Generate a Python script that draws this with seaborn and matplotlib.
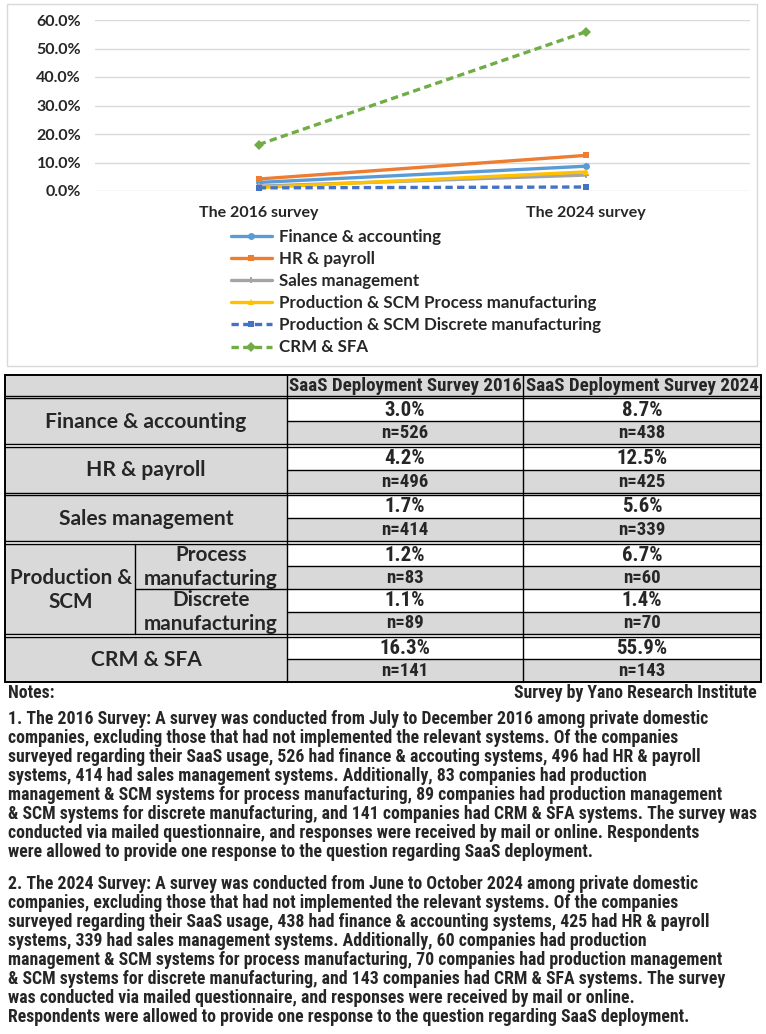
import matplotlib
matplotlib.use("Agg")
import matplotlib.pyplot as plt
import seaborn as sns
import pandas as pd
from matplotlib import font_manager
from matplotlib.patches import Rectangle

# ---------------- data ----------------
categories = ["Finance & accounting", "HR & payroll", "Sales management",
              "Production & SCM Process manufacturing",
              "Production & SCM Discrete manufacturing", "CRM & SFA"]
surveys = ["The 2016 survey", "The 2024 survey"]
rate_2016 = [3.0, 4.2, 1.7, 1.2, 1.1, 16.3]
rate_2024 = [8.7, 12.5, 5.6, 6.7, 1.4, 55.9]
n_2016 = [526, 496, 414, 83, 89, 141]
n_2024 = [438, 425, 339, 60, 70, 143]
y_ticks = [0, 10, 20, 30, 40, 50, 60]
table_headers = ["SaaS Deployment Survey 2016", "SaaS Deployment Survey 2024"]
table_labels = ["Finance & accounting", "HR & payroll", "Sales management",
                "Process\nmanufacturing", "Discrete\nmanufacturing", "CRM & SFA"]
table_group_label = "Production &\nSCM"
notes_title = "Notes:"
source_text = "Survey by Yano Research Institute"
note1_lines = [
    "1. The 2016 Survey: A survey was conducted from July to December 2016 among private domestic",
    "companies, excluding those that had not implemented the relevant systems. Of the companies",
    "surveyed regarding their SaaS usage, 526 had finance & accouting systems, 496 had HR & payroll",
    "systems, 414 had sales management systems. Additionally, 83 companies had production",
    "management & SCM systems for process manufacturing, 89 companies had production management",
    "& SCM systems for discrete manufacturing, and 141 companies had CRM & SFA systems. The survey was",
    "conducted via mailed questionnaire, and responses were received by mail or online. Respondents",
    "were allowed to provide one response to the question regarding SaaS deployment.",
]
note2_lines = [
    "2. The 2024 Survey: A survey was conducted from June to October 2024 among private domestic",
    "companies, excluding those that had not implemented the relevant systems. Of the companies",
    "surveyed regarding their SaaS usage, 438 had finance & accounting systems, 425 had HR & payroll",
    "systems, 339 had sales management systems. Additionally, 60 companies had production",
    "management & SCM systems for process manufacturing, 70 companies had production management",
    "& SCM systems for discrete manufacturing, and 143 companies had CRM & SFA systems. The survey",
    "was conducted via mailed questionnaire, and responses were received by mail or online.",
    "Respondents were allowed to provide one response to the question regarding SaaS deployment.",
]

# ---------------- styles ----------------
colors = ["#5B9BD5", "#ED7D31", "#A5A5A5", "#FFC000", "#4472C4", "#70AD47"]
marker_list = ["o", "s", "P", "^", "s", "D"]
dash_list = ["", "", "", "", (2.2, 1.3), (2.2, 1.3)]

sns.set_theme(style="white")
installed = {f.name for f in font_manager.fontManager.ttflist}


def pick(*names):
    for n in names:
        if n in installed:
            return n
    return "DejaVu Sans"


chart_font = pick("Lato", "Open Sans", "DejaVu Sans")
label_font = pick("Lato", "Open Sans", "DejaVu Sans")
narrow_font = pick("Liberation Sans Narrow", "Roboto Condensed", "DejaVu Sans Condensed",
                   "Roboto", "DejaVu Sans")
plt.rcParams["font.family"] = [chart_font, "DejaVu Sans"]
plt.rcParams["font.weight"] = "bold"

W, H = 766, 1034
fig = plt.figure(figsize=(W / 100, H / 100), dpi=100)
fig.patch.set_facecolor("white")
canvas = fig.add_axes([0, 0, 1, 1])
canvas.set_xlim(0, W)
canvas.set_ylim(H, 0)
canvas.axis("off")
renderer = fig.canvas.get_renderer()


def fit_size(text, target_px, family, base=10.0):
    t = fig.text(0, 0, text, fontsize=base, family=family, weight="bold")
    w = t.get_window_extent(renderer).width
    t.remove()
    return base * target_px / w


# ---------------- chart ----------------
canvas.add_patch(Rectangle((7, 4), 750, 362, fill=False, ec="#d9d9d9", lw=1.0))

ax = fig.add_axes([95 / W, 1 - 191 / H, 655 / W, 171 / H])
rows = []
for i, cat in enumerate(categories):
    rows.append({"survey": surveys[0], "category": cat, "rate": rate_2016[i]})
    rows.append({"survey": surveys[1], "category": cat, "rate": rate_2024[i]})
df = pd.DataFrame(rows)

palette = dict(zip(categories, colors))
markers = dict(zip(categories, marker_list))
dashes = dict(zip(categories, dash_list))

sns.lineplot(data=df, x="survey", y="rate", hue="category", style="category",
             hue_order=categories, style_order=categories,
             palette=palette, markers=markers, dashes=dashes, sort=False,
             linewidth=2.4, markersize=5, markeredgewidth=0, ax=ax, clip_on=False)

ax.set_xlim(-0.5, 1.5)
ax.set_ylim(0, 60)
ax.set_yticks(y_ticks)
tick_fs = fit_size("60.0%", 45, chart_font)
xlab_fs = fit_size("The 2016 survey", 120, chart_font)
ax.set_yticklabels([f"{v:.1f}%" for v in y_ticks], fontsize=tick_fs, fontweight="bold")
ax.set_xticks(range(len(surveys)))
ax.set_xticklabels(surveys, fontsize=xlab_fs, fontweight="bold")
ax.set_xlabel("")
ax.set_ylabel("")
ax.tick_params(axis="y", length=0, pad=10)
ax.tick_params(axis="x", length=0, pad=11)
for s in ax.spines.values():
    s.set_visible(False)
ax.grid(axis="y", color="#d9d9d9", lw=1.0)
ax.set_axisbelow(True)
ax.patch.set_alpha(0)

leg = ax.get_legend()
handles = leg.legend_handles
labels = [t.get_text() for t in leg.get_texts()]
leg.remove()
leg_fs = fit_size("Production & SCM Discrete manufacturing", 322, chart_font)
ax.legend(handles, labels, loc="upper left", bbox_to_anchor=(231 / W, 1 - 229 / H),
          bbox_transform=fig.transFigure, frameon=False,
          prop={"weight": "bold", "size": leg_fs},
          handlelength=2.4, handletextpad=0.45, labelspacing=0.36,
          borderpad=0, borderaxespad=0)

# ---------------- table ----------------
X0, XS, X1, X2, X3 = 5, 134.5, 287, 523, 761
HEAD = (374.5, 396)
row_bounds = [(398, 421, 444), (446.5, 470, 492.5), (495, 518, 541),
              (543.5, 566, 588.7), (588.7, 612, 634), (636.5, 659, 682)]
GRAY = "#d9d9d9"
LW = 1.0

canvas.add_patch(Rectangle((X0, HEAD[0]), X3 - X0, HEAD[1] - HEAD[0], fc=GRAY, ec="none"))
hdr_fs = fit_size(table_headers[0], 232, narrow_font)
for j, h in enumerate(table_headers):
    cx = (X1 + X2) / 2 if j == 0 else (X2 + X3) / 2
    canvas.text(cx, (HEAD[0] + HEAD[1]) / 2 + 1, h, ha="center", va="center",
                fontsize=hdr_fs, family=narrow_font, fontweight="bold")

lab_fs = fit_size("Finance & accounting", 201, label_font)
sub_fs = fit_size("manufacturing", 134, label_font)
pct_fs = 15.0
n_fs = 13.5

for i in range(len(categories)):
    top, mid, bot = row_bounds[i]
    # value cells
    canvas.add_patch(Rectangle((X1, top), X3 - X1, mid - top, fc="white", ec="none"))
    canvas.add_patch(Rectangle((X1, mid), X3 - X1, bot - mid, fc=GRAY, ec="none"))
    vals = [(rate_2016[i], n_2016[i]), (rate_2024[i], n_2024[i])]
    for j, (r, n) in enumerate(vals):
        cx = (X1 + X2) / 2 if j == 0 else (X2 + X3) / 2
        canvas.text(cx, (top + mid) / 2 + 0.5, f"{r:.1f}%", ha="center", va="center",
                    fontsize=pct_fs, family=narrow_font, fontweight="bold")
        canvas.text(cx, (mid + bot) / 2 + 0.5, f"n={n}", ha="center", va="center",
                    fontsize=n_fs, family=narrow_font, fontweight="bold")
    canvas.plot([X1, X3], [mid, mid], color="black", lw=LW)
    # label cells
    if i in (3, 4):
        canvas.add_patch(Rectangle((XS, top), X1 - XS, bot - top, fc=GRAY, ec="none"))
        canvas.text((XS + X1) / 2, (top + bot) / 2 + 1, table_labels[i], ha="center",
                    va="center", fontsize=sub_fs, family=label_font, fontweight="bold",
                    linespacing=1.25)
    else:
        canvas.add_patch(Rectangle((X0, top), X1 - X0, bot - top, fc=GRAY, ec="none"))
        canvas.text((X0 + X1) / 2, (top + bot) / 2 + 1, table_labels[i], ha="center",
                    va="center", fontsize=lab_fs, family=label_font, fontweight="bold")

# production group label
p_top, p_bot = row_bounds[3][0], row_bounds[4][2]
canvas.add_patch(Rectangle((X0, p_top), XS - X0, p_bot - p_top, fc=GRAY, ec="none"))
canvas.text((X0 + XS) / 2 + 1, (p_top + p_bot) / 2 + 1, table_group_label, ha="center",
            va="center", fontsize=sub_fs, family=label_font, fontweight="bold",
            linespacing=1.25)

# horizontal rules (double between groups)
double_pairs = [(HEAD[1], row_bounds[0][0]), (row_bounds[0][2], row_bounds[1][0]),
                (row_bounds[1][2], row_bounds[2][0]), (row_bounds[2][2], row_bounds[3][0]),
                (row_bounds[4][2], row_bounds[5][0])]
for a, b in double_pairs:
    canvas.plot([X0, X3], [a, a], color="black", lw=LW)
    canvas.plot([X0, X3], [b, b], color="black", lw=LW)
canvas.plot([XS, X3], [row_bounds[3][2], row_bounds[3][2]], color="black", lw=LW)
# verticals
for x in (X1, X2):
    canvas.plot([x, x], [HEAD[0], row_bounds[5][2]], color="black", lw=LW)
canvas.plot([XS, XS], [p_top, p_bot], color="black", lw=LW)
canvas.add_patch(Rectangle((X0, HEAD[0]), X3 - X0, row_bounds[5][2] - HEAD[0],
                           fill=False, ec="black", lw=1.4))

# ---------------- notes ----------------
note_fs = fit_size(note1_lines[5], 748, narrow_font)
canvas.text(8, 693, notes_title, ha="left", va="center", fontsize=note_fs,
            family=narrow_font, fontweight="bold")
canvas.text(757, 693, source_text, ha="right", va="center", fontsize=note_fs,
            family=narrow_font, fontweight="bold")
for k, line in enumerate(note1_lines):
    canvas.text(8, 719 + 19 * k, line, ha="left", va="center", fontsize=note_fs,
                family=narrow_font, fontweight="bold")
for k, line in enumerate(note2_lines):
    canvas.text(8, 884 + 19 * k, line, ha="left", va="center", fontsize=note_fs,
                family=narrow_font, fontweight="bold")

fig.savefig("out.png", dpi=100, facecolor="white")
